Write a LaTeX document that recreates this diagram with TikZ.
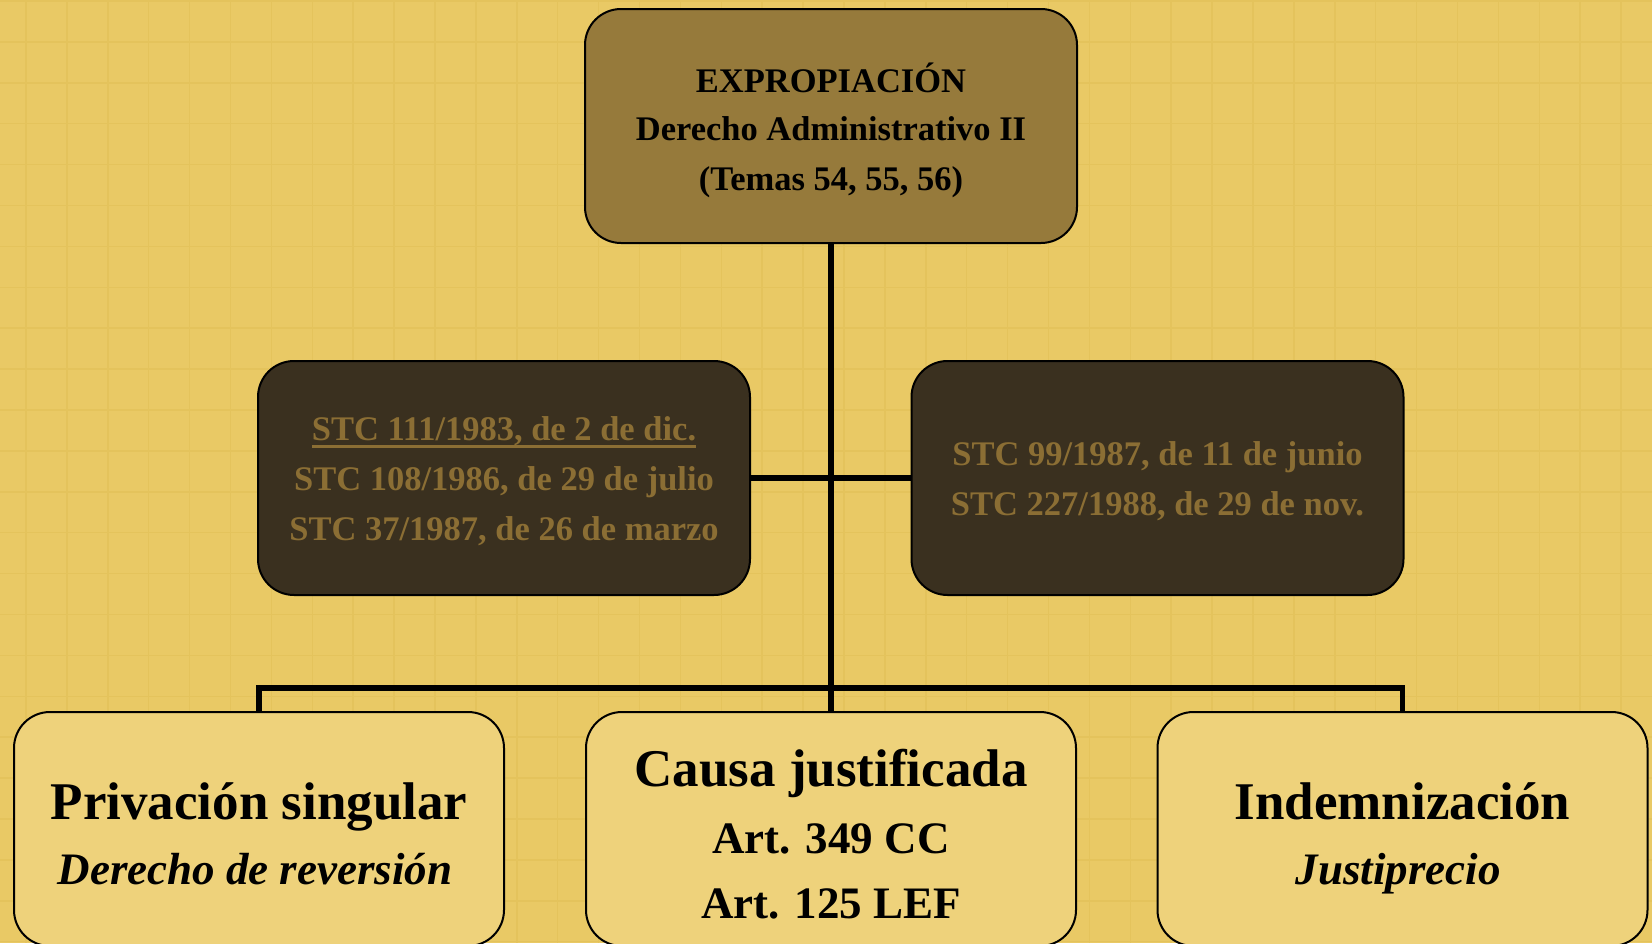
\documentclass[tikz,border=0pt]{standalone}
\usepackage{fontspec}
\setmainfont{Liberation Serif}
\definecolor{bg}{HTML}{E9C965}
\definecolor{gridc}{HTML}{E4C35C}
\definecolor{topfill}{HTML}{967A3B}
\definecolor{darkfill}{HTML}{3A301F}
\definecolor{darktext}{HTML}{8B6E34}
\definecolor{lightfill}{HTML}{EED27B}
\newcommand\ulbox[1]{\setbox0\hbox{#1}\rlap{\rule[-8pt]{\wd0}{2.6pt}}\box0}
\begin{document}
\begin{tikzpicture}[x=1pt,y=-1pt,
  box/.style={rectangle, rounded corners=36pt, draw=black, line width=2pt,
    minimum height=234pt, inner sep=0pt},
  topbox/.style={box, minimum width=492pt, fill=topfill},
  darkbox/.style={box, minimum width=492pt, fill=darkfill},
  lightbox/.style={box, minimum width=490pt, fill=lightfill},
  txt/.style={anchor=base, inner sep=0pt},
  toptxt/.style={txt, text=black, font=\bfseries\fontsize{34.5}{40}\selectfont},
  darktxt/.style={txt, text=darktext, font=\bfseries\fontsize{34.5}{40}\selectfont},
  bigtxt/.style={txt, text=black, font=\bfseries\fontsize{53}{60}\selectfont},
  subtxt/.style={txt, text=black, font=\bfseries\fontsize{45}{52}\selectfont},
  link/.style={line width=5.5pt, draw=black},
  gridline/.style={draw=gridc, line width=1.5pt}]
\useasboundingbox (0,0) rectangle (1652,943);
\clip (0,0) rectangle (1652,943);
\fill[bg] (0,0) rectangle (1652,943);
\foreach \i in {0,...,40} {
  \draw[gridline] ({26+40.9*\i},0) -- ({26+40.9*\i},943);
}
\foreach \j in {0,...,23} {
  \draw[gridline] (0,{1+40.9*\j}) -- (1652,{1+40.9*\j});
}

% boxes
\node[topbox] (top) at (831,126) {};
\node[darkbox] (stcL) at (504,478) {};
\node[darkbox] (stcR) at (1157.5,478) {};
\node[lightbox] (priv) at (259,829) {};
\node[lightbox] (causa) at (831,829) {};
\node[lightbox] (indem) at (1402.5,829) {};

% texts
\node[toptxt] (topA) at (831,92) {EXPROPIACIÓN};
\node[toptxt] (topB) at (831,140) {Derecho Administrativo II};
\node[toptxt] (topC) at (831,190) {(Temas 54, 55, 56)};

\node[darktxt] (stcLA) at (504,440) {\ulbox{STC 111/1983, de 2 de dic.}};
\node[darktxt] (stcLB) at (504,490) {STC 108/1986, de 29 de julio};
\node[darktxt] (stcLC) at (504,540) {STC 37/1987, de 26 de marzo};

\node[darktxt] (stcRA) at (1157.5,465) {STC 99/1987, de 11 de junio};
\node[darktxt] (stcRB) at (1157.5,515) {STC 227/1988, de 29 de nov.};

\node[bigtxt] (privA) at (259,819) {Privación singular};
\node[subtxt, font=\bfseries\itshape\fontsize{45}{52}\selectfont] (privB) at (255,884) {Derecho de reversión};

\node[bigtxt] (causaA) at (831,786) {Causa justificada};
\node[subtxt] (causaB) at (831,853) {Art. 349 CC};
\node[subtxt] (causaC) at (831,918) {Art. 125 LEF};

\node[bigtxt] (indemA) at (1402.5,819) {Indemnización};
\node[subtxt, font=\bfseries\itshape\fontsize{45}{52}\selectfont] (indemB) at (1398,884) {Justiprecio};

% connectors
\coordinate (bus) at (831,688);
\draw[link] (top.south) -- (causa.north);
\draw[link] (stcL.east) -- (stcR.west);
\draw[link] (priv.north) |- (bus) -| (indem.north);
\end{tikzpicture}
\end{document}
